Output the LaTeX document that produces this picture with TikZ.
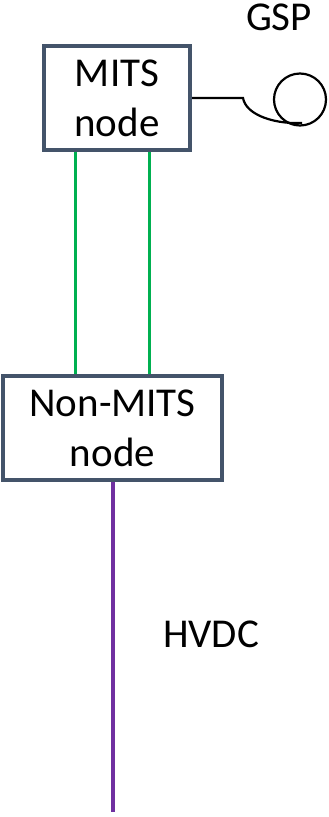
\documentclass[tikz,border=0pt]{standalone}
\usepackage{fontspec}
\setmainfont{Carlito}
\tikzset{
  boxnode/.style={draw=boxcol, line width=4pt, fill=white, align=center, inner sep=0pt,
    font=\fontsize{41}{50}\selectfont, text=black},
  lbl/.style={font=\fontsize{41}{48}\selectfont, inner sep=0pt, text=black},
  gline/.style={draw=greencol, line width=3pt},
  pline/.style={draw=purplecol, line width=4pt},
}
\definecolor{boxcol}{HTML}{44546A}
\definecolor{greencol}{HTML}{00B050}
\definecolor{purplecol}{HTML}{7030A0}
\begin{document}
\begin{tikzpicture}[x=1pt,y=-1pt]
\useasboundingbox (0,0) rectangle (329,817);
\node[boxnode, minimum width=146pt, minimum height=104pt] (mits) at (117,98) {MITS\\node};
\node[boxnode, minimum width=219pt, minimum height=104pt] (nonmits) at (112.5,428) {Non-MITS\\node};
\node[draw=black, line width=2.2pt, circle, minimum size=52pt, inner sep=0pt] (gsp) at (300,99.5) {};
\node[lbl, anchor=base] (gsplbl) at (279,30) {GSP};
\node[lbl, anchor=base west] (hvdc) at (163,647) {HVDC};
\coordinate (g1) at (75,0);
\coordinate (g2) at (149,0);
\coordinate (pend) at (113,812);
\coordinate (bend) at (243,98);
\coordinate (tail) at (302,123);
\draw[gline] (mits.south -| g1) -- (nonmits.north -| g1);
\draw[gline] (mits.south -| g2) -- (nonmits.north -| g2);
\draw[pline] (nonmits.south -| pend) -- (pend);
\draw[black, line width=2.2pt] (mits.east) -- (bend) .. controls (246,114) and (270,122) .. (292,123) -- (tail);
\end{tikzpicture}
\end{document}
